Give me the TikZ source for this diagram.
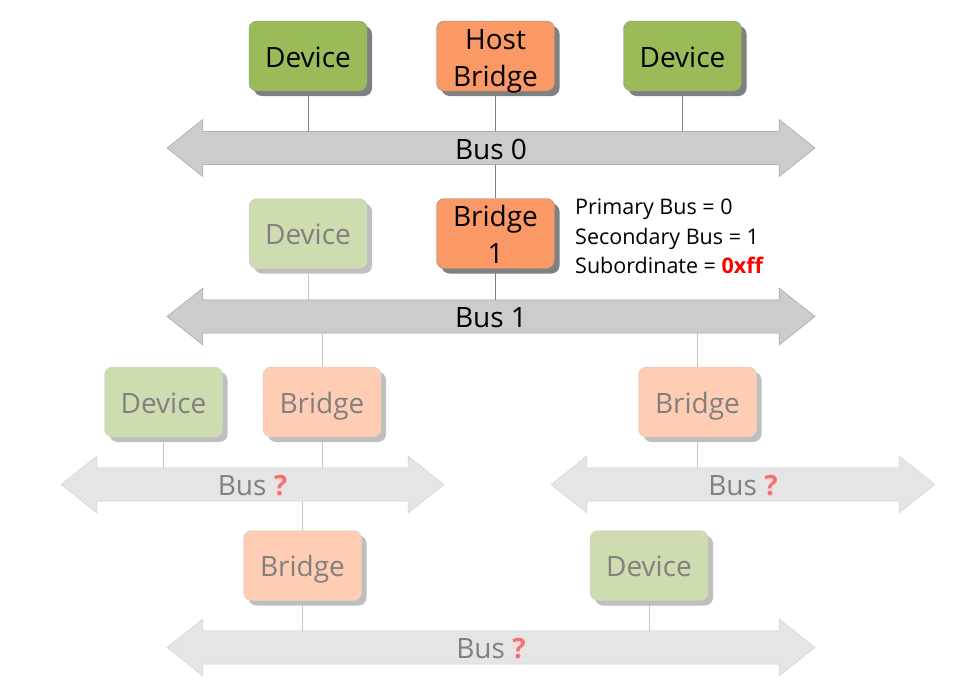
\documentclass[tikz,border=0pt]{standalone}
\usepackage{fontspec}
\setmainfont{Open Sans}
\usetikzlibrary{shapes.arrows,shadows,backgrounds}
\definecolor{devgreen}{RGB}{155,187,89}
\definecolor{hostorange}{RGB}{250,152,102}
\definecolor{fadegreen}{RGB}{205,221,176}
\definecolor{fadeorange}{RGB}{255,205,180}
\definecolor{qred}{RGB}{255,110,110}
\newcommand{\qmark}{\textcolor{qred}{\bfseries ?}}

\begin{document}
\begin{tikzpicture}[x=1pt,y=-1pt]
        \tikzstyle{box base}=[rounded corners=8pt,minimum width=118pt,minimum height=70pt,inner sep=0pt,align=center,text height=22pt,text depth=0pt,font=\fontsize{28}{37}\selectfont]
        \tikzstyle{two lines}=[text height=60pt,text depth=0pt]
        \tikzstyle{main box}=[box base,draw=black!45,drop shadow={shadow xshift=5pt,shadow yshift=-5pt,fill=black!50,opacity=1}]
        \tikzstyle{faded box}=[box base,draw=black!18,text=black!50,drop shadow={shadow xshift=5pt,shadow yshift=-5pt,fill=black!25,opacity=1}]
        \tikzstyle{bus}=[double arrow,draw=black!40,fill=black!20,minimum height=648pt,minimum width=57pt,double arrow head extend=8pt,double arrow tip angle=77,double arrow head indent=0pt,inner sep=0pt,text height=22pt,text depth=0pt,font=\fontsize{28}{34}\selectfont]
        \tikzstyle{faded bus}=[bus,draw=black!18,fill=black!10,text=black!50]
        \tikzstyle{wire}=[draw=black!50,line width=0.8pt]
        \tikzstyle{faded wire}=[draw=black!22,line width=0.8pt]
        \useasboundingbox (0,0) rectangle (955,697);

        % bus 0
        \node[main box,two lines,fill=hostorange] (host) at (495.5,56) {Host\\Bridge};
        \node[main box,fill=devgreen,node distance=187.5pt] (devA) [left of=host] {Device};
        \node[main box,fill=devgreen,node distance=187pt] (devB) [right of=host] {Device};
        \node[bus] (bus0) at (491,148) {Bus 0};

        % bus 1
        \node[main box,two lines,fill=hostorange] (bridge1) at (495.5,233.5) {Bridge\\1};
        \node[faded box,fill=fadegreen] (devC) at (308,233.5) {Device};
        \node[bus] (bus1) at (491,316.5) {Bus 1};
        \node[anchor=west,inner sep=0pt,align=left,font=\fontsize{21.5}{29.5}\selectfont] (regs) at (575,236.5) {Primary Bus = 0\\Secondary Bus = 1\\Subordinate = \textcolor{red}{\bfseries 0xff}};

        % unknown buses
        \node[faded box,fill=fadegreen] (devD) at (163.5,402) {Device};
        \node[faded box,fill=fadeorange] (bridgeA) at (322,402) {Bridge};
        \node[faded box,fill=fadeorange] (bridgeB) at (697.5,402) {Bridge};
        \node[faded bus,minimum height=383pt] (busA) at (252.5,484.5) {Bus \qmark};
        \node[faded bus,minimum height=384pt] (busB) at (743,484.5) {Bus \qmark};
        \node[faded box,fill=fadeorange] (bridgeC) at (302.5,565.5) {Bridge};
        \node[faded box,fill=fadegreen] (devE) at (649,565.5) {Device};
        \node[faded bus] (busC) at (491,647.5) {Bus \qmark};

        \begin{scope}[on background layer]
        \draw[wire] (devA) -- (devA |- bus0);
        \draw[wire] (host) -- (host |- bus0);
        \draw[wire] (devB) -- (devB |- bus0);
        \draw[wire] (bridge1 |- bus0) -- (bridge1);
        \draw[wire] (bridge1) -- (bridge1 |- bus1);
        \draw[faded wire] (devC) -- (devC |- bus1);
        \draw[faded wire] (bridgeA |- bus1) -- (bridgeA);
        \draw[faded wire] (bridgeB |- bus1) -- (bridgeB);
        \draw[faded wire] (devD) -- (devD |- busA);
        \draw[faded wire] (bridgeA) -- (bridgeA |- busA);
        \draw[faded wire] (bridgeB) -- (bridgeB |- busB);
        \draw[faded wire] (bridgeC |- busA) -- (bridgeC);
        \draw[faded wire] (bridgeC) -- (bridgeC |- busC);
        \draw[faded wire] (devE) -- (devE |- busC);
        \end{scope}
\end{tikzpicture}
\end{document}
